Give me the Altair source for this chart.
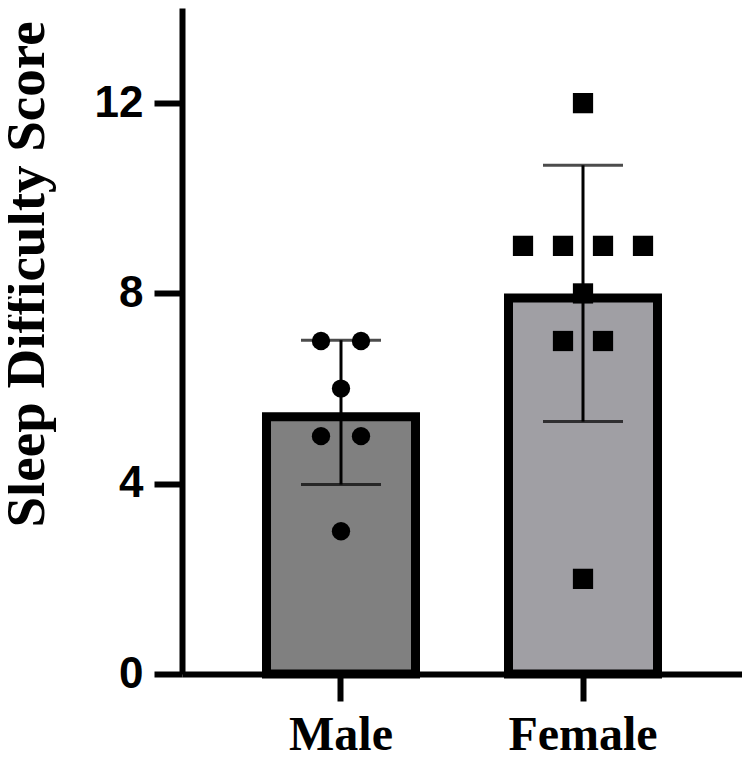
import altair as alt
import pandas as pd

groups = ["Male", "Female"]
male_scores = [7, 7, 6, 5, 5, 3]
female_scores = [12, 9, 9, 9, 9, 8, 7, 7, 2]
bar_colors = ["#808080", "#a09fa4"]
shapes = ["circle", "square"]
y_ticks = [0, 4, 8, 12]

df = pd.DataFrame(
    {
        "group": ["Male"] * len(male_scores) + ["Female"] * len(female_scores),
        "score": male_scores + female_scores,
    }
)

x_enc = alt.X(
    "group:N",
    sort=groups,
    scale=alt.Scale(paddingInner=0.3, paddingOuter=0.307),
    axis=alt.Axis(
        title=None,
        labelAngle=0,
        labelFont="Liberation Serif",
        labelFontWeight="bold",
        labelFontSize=48,
        labelColor="black",
        labelBaseline="alphabetic",
        labelPadding=48,
        tickSize=27,
        tickWidth=6,
        tickColor="black",
        domainWidth=6,
        domainColor="black",
    ),
)

y_scale = alt.Scale(domain=[0, 14])

base = alt.Chart(df)

bars = base.mark_bar(size=149, stroke="black", strokeWidth=9, yOffset=4.5).encode(
    x=x_enc,
    y=alt.Y(
        "mean(score):Q",
        scale=y_scale,
        axis=alt.Axis(
            title="Sleep Difficulty Score",
            values=y_ticks,
            grid=False,
            labelFont="Liberation Sans",
            labelFontWeight="bold",
            labelFontSize=44,
            labelColor="black",
            labelPadding=11,
            tickSize=28,
            tickWidth=6,
            tickColor="black",
            domainWidth=6,
            domainColor="black",
            titleFont="Liberation Serif",
            titleFontWeight="bold",
            titleFontSize=55,
            titleColor="black",
            titleAngle=270,
            titleAlign="center",
            titleBaseline="alphabetic",
            titleX=-139,
            titleY=266,
        ),
    ),
    fill=alt.Fill("group:N", scale=alt.Scale(domain=groups, range=bar_colors), legend=None),
)

stats = base.transform_aggregate(
    m="mean(score)", sd="stdev(score)", groupby=["group"]
).transform_calculate(lo="datum.m - datum.sd", hi="datum.m + datum.sd")

rule = stats.mark_rule(color="black", strokeWidth=3).encode(
    x=alt.X("group:N", sort=groups),
    y=alt.Y("lo:Q", scale=y_scale),
    y2="hi:Q",
)

caps = stats.transform_fold(["lo", "hi"], as_=["k", "v"]).mark_tick(
    color="black", size=80, thickness=3
).encode(
    x=alt.X("group:N", sort=groups),
    y=alt.Y("v:Q", scale=y_scale),
)

points = (
    base.transform_window(idx="row_number()", groupby=["group", "score"])
    .transform_joinaggregate(n="count()", groupby=["group", "score"])
    .transform_calculate(off="datum.idx - (datum.n + 1) / 2")
    .mark_point(filled=True, opacity=1, color="black")
    .encode(
        x=alt.X("group:N", sort=groups),
        xOffset=alt.XOffset("off:Q", scale=alt.Scale(domain=[-1, 1], range=[44.7, 124.7])),
        y=alt.Y("score:Q", scale=y_scale),
        shape=alt.Shape("group:N", scale=alt.Scale(domain=groups, range=shapes), legend=None),
        size=alt.Size("group:N", scale=alt.Scale(domain=groups, range=[336, 410]), legend=None),
    )
)

chart = (
    alt.layer(bars, rule, caps, points)
    .properties(
        width=560,
        height=666,
        autosize=alt.AutoSizeParams(type="none"),
        padding={"left": 174, "top": 0, "right": 0, "bottom": 77},
    )
    .configure_view(stroke=None)
    .configure_axis(grid=False)
)

chart.save("out.html", embed_options={"renderer": "svg", "actions": False})
